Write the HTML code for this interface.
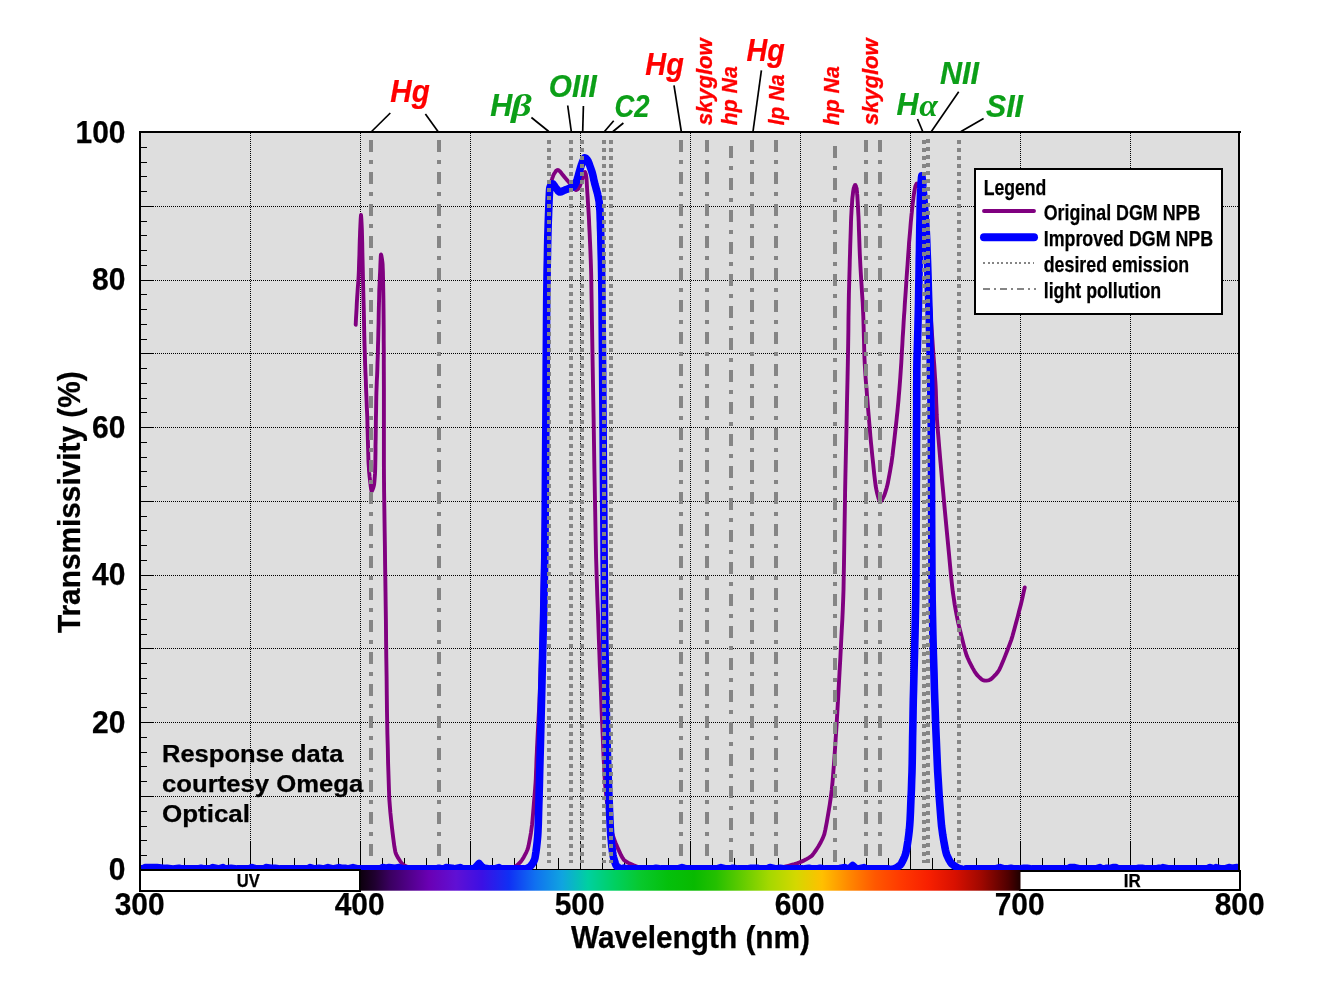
<!DOCTYPE html>
<html><head><meta charset="utf-8"><title>DGM NPB filter transmissivity</title>
<style>
html,body{margin:0;padding:0;background:#fff;}
body{width:1322px;height:1003px;overflow:hidden;}
svg{display:block;}
text{font-family:"Liberation Sans",sans-serif;}
.b{font-weight:bold;}
.bi{font-weight:bold;font-style:italic;}
.sy{font-family:"Liberation Serif","DejaVu Serif",serif;font-style:italic;font-weight:normal;}
</style></head><body>
<svg width="1322" height="1003" viewBox="0 0 1322 1003">
<defs>
<clipPath id="pc"><rect x="140" y="132" width="1099" height="738"/></clipPath>
<linearGradient id="sp" gradientUnits="userSpaceOnUse" x1="360" y1="0" x2="1020" y2="0">
<stop offset="0.0000" stop-color="#0c000c"/><stop offset="0.0227" stop-color="#200030"/><stop offset="0.0455" stop-color="#3a0060"/><stop offset="0.0758" stop-color="#52008c"/><stop offset="0.1045" stop-color="#6a00b4"/><stop offset="0.1455" stop-color="#6010d4"/><stop offset="0.1848" stop-color="#3c10e4"/><stop offset="0.2258" stop-color="#1030f4"/><stop offset="0.2652" stop-color="#1070f0"/><stop offset="0.3061" stop-color="#10a4e0"/><stop offset="0.3455" stop-color="#00d0a0"/><stop offset="0.3864" stop-color="#00d060"/><stop offset="0.4258" stop-color="#08c82c"/><stop offset="0.4667" stop-color="#04c00c"/><stop offset="0.5061" stop-color="#08ba00"/><stop offset="0.5394" stop-color="#24c000"/><stop offset="0.5803" stop-color="#64cc00"/><stop offset="0.6197" stop-color="#a4d800"/><stop offset="0.6606" stop-color="#d4d800"/><stop offset="0.7000" stop-color="#ffc000"/><stop offset="0.7409" stop-color="#ff8800"/><stop offset="0.7803" stop-color="#ff5800"/><stop offset="0.8212" stop-color="#ff3800"/><stop offset="0.8606" stop-color="#f82000"/><stop offset="0.9015" stop-color="#d81000"/><stop offset="0.9409" stop-color="#a00800"/><stop offset="0.9818" stop-color="#500000"/><stop offset="1.0000" stop-color="#200000"/>
</linearGradient>
</defs>
<rect x="0" y="0" width="1322" height="1003" fill="#ffffff"/>
<rect x="140" y="132" width="1100" height="739" fill="#dedede"/>
<g stroke="#000" stroke-width="1" stroke-dasharray="1,1" shape-rendering="crispEdges" fill="none">
<line x1="250.5" y1="133" x2="250.5" y2="842"/><line x1="360.5" y1="133" x2="360.5" y2="842"/><line x1="470.5" y1="133" x2="470.5" y2="842"/><line x1="580.5" y1="133" x2="580.5" y2="842"/><line x1="690.5" y1="133" x2="690.5" y2="842"/><line x1="800.5" y1="133" x2="800.5" y2="842"/><line x1="910.5000000000001" y1="133" x2="910.5000000000001" y2="842"/><line x1="1020.5000000000001" y1="133" x2="1020.5000000000001" y2="842"/><line x1="1130.5" y1="133" x2="1130.5" y2="842"/><line x1="153" y1="796.5" x2="1238" y2="796.5"/><line x1="153" y1="722.5" x2="1238" y2="722.5"/><line x1="153" y1="648.5" x2="1238" y2="648.5"/><line x1="153" y1="575.5" x2="1238" y2="575.5"/><line x1="153" y1="501.5" x2="1238" y2="501.5"/><line x1="153" y1="427.5" x2="1238" y2="427.5"/><line x1="153" y1="353.5" x2="1238" y2="353.5"/><line x1="153" y1="280.5" x2="1238" y2="280.5"/><line x1="153" y1="206.5" x2="1238" y2="206.5"/>
</g>
<g stroke="#000" stroke-width="1" shape-rendering="crispEdges" fill="none">
<line x1="162.5" y1="858" x2="162.5" y2="870"/><line x1="184.5" y1="858" x2="184.5" y2="870"/><line x1="206.5" y1="858" x2="206.5" y2="870"/><line x1="228.5" y1="858" x2="228.5" y2="870"/><line x1="250.5" y1="842" x2="250.5" y2="870"/><line x1="272.5" y1="858" x2="272.5" y2="870"/><line x1="294.5" y1="858" x2="294.5" y2="870"/><line x1="316.5" y1="858" x2="316.5" y2="870"/><line x1="338.5" y1="858" x2="338.5" y2="870"/><line x1="360.5" y1="842" x2="360.5" y2="870"/><line x1="382.5" y1="858" x2="382.5" y2="870"/><line x1="404.5" y1="858" x2="404.5" y2="870"/><line x1="426.5" y1="858" x2="426.5" y2="870"/><line x1="448.5" y1="858" x2="448.5" y2="870"/><line x1="470.5" y1="842" x2="470.5" y2="870"/><line x1="492.5" y1="858" x2="492.5" y2="870"/><line x1="514.5" y1="858" x2="514.5" y2="870"/><line x1="536.5" y1="858" x2="536.5" y2="870"/><line x1="558.5" y1="858" x2="558.5" y2="870"/><line x1="580.5" y1="842" x2="580.5" y2="870"/><line x1="602.5" y1="858" x2="602.5" y2="870"/><line x1="624.5" y1="858" x2="624.5" y2="870"/><line x1="646.5" y1="858" x2="646.5" y2="870"/><line x1="668.5" y1="858" x2="668.5" y2="870"/><line x1="690.5" y1="842" x2="690.5" y2="870"/><line x1="712.5" y1="858" x2="712.5" y2="870"/><line x1="734.5" y1="858" x2="734.5" y2="870"/><line x1="756.5" y1="858" x2="756.5" y2="870"/><line x1="778.5" y1="858" x2="778.5" y2="870"/><line x1="800.5" y1="842" x2="800.5" y2="870"/><line x1="822.5" y1="858" x2="822.5" y2="870"/><line x1="844.5" y1="858" x2="844.5" y2="870"/><line x1="866.5" y1="858" x2="866.5" y2="870"/><line x1="888.5" y1="858" x2="888.5" y2="870"/><line x1="910.5" y1="842" x2="910.5" y2="870"/><line x1="932.5" y1="858" x2="932.5" y2="870"/><line x1="954.5" y1="858" x2="954.5" y2="870"/><line x1="976.5" y1="858" x2="976.5" y2="870"/><line x1="998.5" y1="858" x2="998.5" y2="870"/><line x1="1020.5" y1="842" x2="1020.5" y2="870"/><line x1="1042.5" y1="858" x2="1042.5" y2="870"/><line x1="1064.5" y1="858" x2="1064.5" y2="870"/><line x1="1086.5" y1="858" x2="1086.5" y2="870"/><line x1="1108.5" y1="858" x2="1108.5" y2="870"/><line x1="1130.5" y1="842" x2="1130.5" y2="870"/><line x1="1152.5" y1="858" x2="1152.5" y2="870"/><line x1="1174.5" y1="858" x2="1174.5" y2="870"/><line x1="1196.5" y1="858" x2="1196.5" y2="870"/><line x1="1218.5" y1="858" x2="1218.5" y2="870"/><line x1="140" y1="855.5" x2="147" y2="855.5"/><line x1="140" y1="840.5" x2="147" y2="840.5"/><line x1="140" y1="826.5" x2="147" y2="826.5"/><line x1="140" y1="811.5" x2="147" y2="811.5"/><line x1="140" y1="796.5" x2="153" y2="796.5"/><line x1="140" y1="781.5" x2="147" y2="781.5"/><line x1="140" y1="766.5" x2="147" y2="766.5"/><line x1="140" y1="752.5" x2="147" y2="752.5"/><line x1="140" y1="737.5" x2="147" y2="737.5"/><line x1="140" y1="722.5" x2="153" y2="722.5"/><line x1="140" y1="707.5" x2="147" y2="707.5"/><line x1="140" y1="693.5" x2="147" y2="693.5"/><line x1="140" y1="678.5" x2="147" y2="678.5"/><line x1="140" y1="663.5" x2="147" y2="663.5"/><line x1="140" y1="648.5" x2="153" y2="648.5"/><line x1="140" y1="634.5" x2="147" y2="634.5"/><line x1="140" y1="619.5" x2="147" y2="619.5"/><line x1="140" y1="604.5" x2="147" y2="604.5"/><line x1="140" y1="589.5" x2="147" y2="589.5"/><line x1="140" y1="575.5" x2="153" y2="575.5"/><line x1="140" y1="560.5" x2="147" y2="560.5"/><line x1="140" y1="545.5" x2="147" y2="545.5"/><line x1="140" y1="530.5" x2="147" y2="530.5"/><line x1="140" y1="516.5" x2="147" y2="516.5"/><line x1="140" y1="501.5" x2="153" y2="501.5"/><line x1="140" y1="486.5" x2="147" y2="486.5"/><line x1="140" y1="471.5" x2="147" y2="471.5"/><line x1="140" y1="457.5" x2="147" y2="457.5"/><line x1="140" y1="442.5" x2="147" y2="442.5"/><line x1="140" y1="427.5" x2="153" y2="427.5"/><line x1="140" y1="412.5" x2="147" y2="412.5"/><line x1="140" y1="398.5" x2="147" y2="398.5"/><line x1="140" y1="383.5" x2="147" y2="383.5"/><line x1="140" y1="368.5" x2="147" y2="368.5"/><line x1="140" y1="353.5" x2="153" y2="353.5"/><line x1="140" y1="339.5" x2="147" y2="339.5"/><line x1="140" y1="324.5" x2="147" y2="324.5"/><line x1="140" y1="309.5" x2="147" y2="309.5"/><line x1="140" y1="294.5" x2="147" y2="294.5"/><line x1="140" y1="280.5" x2="153" y2="280.5"/><line x1="140" y1="265.5" x2="147" y2="265.5"/><line x1="140" y1="250.5" x2="147" y2="250.5"/><line x1="140" y1="235.5" x2="147" y2="235.5"/><line x1="140" y1="221.5" x2="147" y2="221.5"/><line x1="140" y1="206.5" x2="153" y2="206.5"/><line x1="140" y1="191.5" x2="147" y2="191.5"/><line x1="140" y1="176.5" x2="147" y2="176.5"/><line x1="140" y1="162.5" x2="147" y2="162.5"/><line x1="140" y1="147.5" x2="147" y2="147.5"/>
</g>
<rect x="140" y="869" width="1100" height="1" fill="#000" shape-rendering="crispEdges"/>
<g clip-path="url(#pc)" fill="none" stroke-linejoin="round" stroke-linecap="round">
<path d="M355.7,324.8L355.8,322.4L356.0,318.4L356.3,313.3L356.6,308.1L356.8,303.4L357.0,300.0L357.2,296.8L357.5,292.7L357.8,287.9L358.2,283.0L358.5,278.5L358.7,274.7L358.9,269.9L359.1,262.8L359.4,254.7L359.6,246.5L359.8,239.6L360.0,235.0L360.1,231.4L360.3,227.2L360.5,222.8L360.7,218.9L360.9,216.1L361.0,215.0L361.1,215.9L361.3,218.3L361.5,221.8L361.7,226.0L361.9,230.6L362.0,235.0L362.2,242.0L362.4,253.1L362.7,266.4L363.0,279.9L363.3,291.8L363.5,300.0L363.7,307.1L363.9,316.0L364.1,325.9L364.3,335.5L364.5,343.9L364.7,350.0L364.9,355.8L365.1,363.4L365.4,371.8L365.8,380.0L366.0,387.0L366.2,392.0L366.4,396.3L366.6,401.5L366.8,407.2L367.1,412.8L367.3,417.9L367.4,422.0L367.5,426.8L367.7,433.6L367.9,441.4L368.1,449.0L368.3,455.5L368.4,459.6L368.5,462.3L368.7,465.1L368.9,467.8L369.0,470.4L369.2,472.7L369.4,474.5L369.6,476.7L370.0,479.9L370.4,483.5L370.8,487.0L371.2,489.6L371.5,491.0L371.8,491.1L372.3,490.3L372.8,489.1L373.3,487.7L373.7,486.2L374.0,485.0L374.2,483.6L374.4,481.6L374.6,479.1L374.8,476.5L375.0,473.9L375.1,471.5L375.2,468.3L375.3,463.5L375.4,457.7L375.5,451.7L375.5,446.1L375.6,441.6L375.7,436.2L375.8,428.3L375.9,419.2L376.1,410.1L376.2,402.2L376.3,396.8L376.4,392.4L376.6,387.1L376.8,381.4L377.1,375.7L377.3,370.7L377.4,366.9L377.5,362.9L377.7,357.5L377.9,351.4L378.0,345.1L378.2,339.5L378.3,335.0L378.4,329.9L378.6,322.7L378.7,314.4L378.9,306.2L379.1,299.0L379.2,294.0L379.3,289.6L379.6,284.0L379.8,278.0L380.1,272.2L380.3,267.4L380.4,264.3L380.5,262.2L380.6,260.0L380.7,257.9L380.8,256.2L380.9,255.0L381.0,254.5L381.2,255.0L381.5,256.2L381.8,258.0L382.1,260.1L382.4,262.2L382.6,264.3L382.7,267.1L382.9,271.5L383.0,276.7L383.1,282.4L383.2,287.9L383.3,292.7L383.4,298.6L383.5,307.2L383.6,317.5L383.7,328.7L383.7,339.8L383.8,350.0L383.8,364.7L383.9,387.5L383.9,414.3L383.9,441.3L383.9,464.6L384.0,480.0L384.1,491.6L384.3,505.2L384.5,519.6L384.7,533.4L384.9,545.7L385.0,555.0L385.1,564.6L385.3,577.4L385.5,591.8L385.7,606.4L385.9,619.6L386.0,630.0L386.1,641.6L386.3,658.0L386.6,676.8L386.8,695.6L387.0,712.1L387.2,723.7L387.4,734.4L387.8,748.2L388.1,763.4L388.6,778.2L389.0,790.6L389.3,799.0L389.8,805.5L390.4,812.9L391.2,820.6L392.0,827.9L392.7,833.8L393.2,837.8L393.6,840.7L394.0,843.7L394.4,846.7L394.9,849.4L395.3,851.7L395.8,853.4L396.5,855.0L397.5,856.9L398.8,859.0L400.1,861.0L401.3,862.7L402.2,863.8L403.1,864.6L404.5,865.4L406.0,866.2L407.5,867.0L408.9,867.6L410.0,868.0L411.3,868.3L413.2,868.7L415.3,869.2L417.4,869.5L419.0,869.8L420.0,870.0L505.0,870.0L506.1,869.6L508.0,869.0L510.3,868.2L512.6,867.4L514.7,866.6L516.0,866.0L517.0,865.3L518.0,864.4L519.2,863.3L520.3,862.1L521.3,861.0L522.0,860.0L522.8,858.7L523.9,856.9L525.1,854.6L526.3,852.3L527.3,850.0L528.0,848.0L528.6,845.5L529.3,841.9L530.1,837.6L530.9,833.1L531.5,828.7L532.0,825.0L532.5,820.2L533.1,813.1L533.8,804.7L534.5,796.2L535.1,788.8L535.5,783.5L535.8,778.8L536.0,772.7L536.3,766.0L536.5,759.2L536.8,753.0L537.0,748.0L537.3,742.3L537.7,734.2L538.2,724.9L538.7,715.4L539.2,706.7L539.5,700.0L539.8,692.9L540.1,683.2L540.5,672.0L540.9,660.3L541.2,649.2L541.5,640.0L541.8,628.5L542.1,611.6L542.5,591.9L542.9,571.7L543.2,553.6L543.5,540.0L543.8,526.2L544.1,507.5L544.5,486.1L544.9,464.5L545.2,445.0L545.5,430.0L545.8,413.4L546.3,390.1L546.8,363.5L547.3,337.3L547.7,314.9L548.0,300.0L548.2,288.6L548.4,275.3L548.6,261.4L548.7,248.4L548.9,237.4L549.0,230.0L549.1,224.1L549.3,217.3L549.5,210.4L549.7,203.9L549.9,198.6L550.0,195.0L550.2,192.4L550.4,189.6L550.7,186.9L551.0,184.4L551.3,182.4L551.5,181.0L551.7,179.9L552.1,178.8L552.5,177.6L552.9,176.6L553.2,175.7L553.5,175.0L553.8,174.4L554.2,173.6L554.8,172.8L555.3,172.0L555.7,171.4L556.0,171.0L556.3,170.7L556.6,170.5L557.0,170.3L557.4,170.1L557.7,170.0L558.0,170.0L558.3,170.1L558.7,170.4L559.2,170.8L559.7,171.2L560.1,171.6L560.5,172.0L560.9,172.5L561.5,173.3L562.2,174.2L562.9,175.1L563.6,175.9L564.0,176.5L564.4,177.0L564.9,177.6L565.5,178.3L566.1,179.0L566.6,179.6L567.0,180.0L567.4,180.5L567.9,181.1L568.5,181.7L569.1,182.4L569.6,183.0L570.0,183.5L570.4,184.0L570.9,184.7L571.5,185.5L572.1,186.3L572.6,187.0L573.0,187.5L573.4,187.9L573.9,188.4L574.5,189.0L575.1,189.5L575.6,189.8L576.0,190.0L576.4,189.9L576.9,189.7L577.5,189.3L578.1,188.9L578.6,188.4L579.0,188.0L579.3,187.3L579.8,186.2L580.3,184.9L580.8,183.6L581.2,182.4L581.5,181.5L581.8,180.6L582.1,179.4L582.5,178.1L582.9,176.8L583.3,175.7L583.5,175.0L583.7,174.4L584.0,173.8L584.3,173.1L584.6,172.5L584.8,172.1L585.0,172.0L585.2,172.3L585.4,172.9L585.7,173.7L585.9,174.7L586.1,175.8L586.3,177.0L586.5,178.8L586.7,181.7L586.9,185.3L587.1,188.9L587.3,192.3L587.5,195.0L587.7,197.8L587.9,201.8L588.2,206.3L588.5,211.2L588.8,215.8L589.0,219.7L589.2,224.9L589.6,232.6L590.0,241.7L590.4,250.9L590.7,258.9L590.9,264.5L591.0,268.0L591.1,271.2L591.2,274.9L591.3,280.3L591.4,288.4L591.6,300.0L592.0,325.0L592.7,366.9L593.6,417.6L594.4,468.8L595.2,512.3L595.7,540.0L596.1,558.0L596.7,577.0L597.3,596.0L598.0,613.6L598.5,628.7L598.9,640.0L599.3,651.2L599.8,665.6L600.5,681.4L601.1,696.9L601.6,710.4L602.0,720.0L602.4,728.9L602.9,740.4L603.4,752.9L604.0,765.2L604.5,775.7L605.0,783.0L605.6,789.3L606.4,797.2L607.4,805.7L608.4,813.8L609.3,820.5L610.0,825.0L610.7,828.2L611.6,831.6L612.7,834.9L613.8,838.1L614.8,840.9L615.6,843.0L616.6,845.3L617.9,848.4L619.5,851.9L621.1,855.3L622.7,858.2L624.0,860.0L625.6,861.3L628.0,862.7L630.9,864.0L633.7,865.3L636.2,866.3L638.0,867.0L639.7,867.5L642.0,868.2L644.5,868.8L646.9,869.3L648.9,869.7L650.0,870.0L770.0,870.0L771.3,869.7L773.6,869.3L776.4,868.7L779.4,868.0L782.1,867.5L784.0,867.0L785.9,866.5L788.5,865.8L791.5,865.0L794.4,864.2L797.0,863.4L798.9,862.7L800.7,861.9L803.1,860.9L805.7,859.6L808.3,858.1L810.6,856.7L812.3,855.2L813.9,853.1L816.1,850.0L818.5,846.2L820.9,842.0L822.9,837.9L824.3,834.3L825.4,829.4L826.8,822.1L828.3,813.3L829.8,804.2L831.0,795.9L831.8,789.4L832.5,782.3L833.3,772.4L834.2,760.8L835.0,749.0L835.7,738.2L836.3,729.6L836.9,719.7L837.7,705.5L838.6,689.2L839.5,672.8L840.3,658.7L840.8,648.8L841.2,640.7L841.7,630.8L842.3,620.1L842.8,609.1L843.2,598.8L843.5,590.0L843.7,578.8L844.0,562.5L844.3,543.3L844.6,523.6L844.9,505.6L845.1,491.6L845.4,475.7L845.9,453.0L846.5,427.0L847.0,401.3L847.5,379.5L847.8,365.0L848.0,354.3L848.2,342.0L848.4,329.3L848.5,317.3L848.7,307.1L848.8,300.0L848.9,294.0L849.1,286.8L849.3,279.2L849.5,271.7L849.7,265.1L849.8,260.0L850.0,254.3L850.2,246.5L850.5,237.6L850.8,228.9L851.0,221.5L851.2,216.7L851.4,213.3L851.6,209.4L851.9,205.6L852.1,202.0L852.3,199.0L852.5,197.0L852.7,195.4L852.9,193.7L853.1,191.9L853.4,190.2L853.6,188.9L853.8,188.0L854.0,187.4L854.2,186.7L854.5,186.1L854.8,185.5L855.0,185.1L855.2,185.0L855.4,185.1L855.6,185.5L855.9,186.1L856.1,186.7L856.3,187.4L856.5,188.0L856.6,188.9L856.8,190.2L857.0,191.9L857.1,193.7L857.3,195.4L857.4,197.0L857.5,199.0L857.7,202.0L857.9,205.6L858.1,209.4L858.3,213.3L858.5,216.7L858.7,221.5L858.9,228.7L859.2,237.2L859.5,246.1L859.8,254.0L860.1,260.0L860.4,266.1L860.9,274.6L861.5,284.2L862.1,294.0L862.7,302.7L863.0,309.4L863.3,316.5L863.6,326.5L863.9,337.7L864.2,348.9L864.5,358.5L864.8,365.0L865.1,370.2L865.5,376.4L866.0,383.0L866.6,389.5L867.0,395.4L867.4,400.0L867.8,405.2L868.4,412.4L869.1,420.6L869.8,428.9L870.4,436.3L870.9,441.9L871.5,447.8L872.3,455.9L873.3,465.0L874.2,474.0L875.1,481.4L875.7,486.2L876.3,489.4L877.0,492.7L877.8,495.8L878.6,498.6L879.4,500.6L879.9,501.7L880.4,501.7L881.2,501.0L882.0,499.7L882.9,498.3L883.6,496.8L884.1,495.7L884.6,494.4L885.2,492.6L885.9,490.4L886.6,488.1L887.2,485.8L887.7,483.8L888.2,481.2L888.9,477.3L889.8,472.7L890.6,467.9L891.4,463.4L891.9,459.8L892.5,455.5L893.2,449.2L894.1,441.8L894.9,434.5L895.6,428.2L896.1,423.9L896.5,420.4L896.9,416.3L897.4,411.8L897.8,407.4L898.2,403.3L898.5,400.0L898.8,396.0L899.3,390.4L899.8,383.9L900.3,377.3L900.7,371.4L901.0,367.0L901.3,362.6L901.6,356.7L902.0,350.0L902.4,343.3L902.7,337.4L903.0,333.0L903.3,328.7L903.6,322.9L904.0,316.4L904.5,310.0L904.8,304.2L905.1,300.0L905.4,295.8L905.8,290.1L906.2,283.8L906.6,277.5L907.0,272.0L907.3,268.0L907.6,264.2L907.9,259.3L908.3,253.7L908.7,248.3L909.0,243.5L909.3,240.0L909.6,236.6L910.0,232.1L910.4,227.1L910.8,222.2L911.2,218.0L911.5,215.0L911.8,212.4L912.1,209.0L912.5,205.4L912.9,202.0L913.3,199.0L913.5,197.0L913.7,195.4L914.0,193.5L914.4,191.5L914.7,189.6L915.0,188.0L915.2,187.0L915.4,186.3L915.7,185.5L916.1,184.7L916.4,184.1L916.7,183.6L917.0,183.5L917.3,183.7L917.7,184.1L918.2,184.8L918.7,185.7L919.1,186.8L919.5,188.0L919.9,190.0L920.5,193.3L921.2,197.3L921.9,201.7L922.5,206.1L923.0,210.0L923.5,215.4L924.2,223.7L925.0,233.6L925.8,243.7L926.5,253.0L927.0,260.0L927.5,267.4L928.2,277.7L929.0,289.5L929.8,301.4L930.5,312.0L931.0,320.0L931.6,328.4L932.4,339.9L933.3,352.9L934.3,365.7L935.0,376.6L935.5,384.0L935.8,389.5L936.0,395.7L936.2,402.2L936.5,408.6L936.7,414.7L937.0,420.0L937.5,426.6L938.3,436.0L939.2,447.2L940.2,458.9L941.2,470.1L942.0,479.6L943.2,492.2L944.9,511.2L947.0,533.3L949.1,555.1L950.8,573.5L952.0,585.0L952.8,591.9L953.8,598.4L954.7,604.6L955.7,610.1L956.6,614.9L957.4,618.9L958.4,623.6L960.0,630.1L961.8,637.4L963.6,644.7L965.2,650.8L966.4,654.8L967.6,657.8L969.2,661.3L971.0,664.8L972.7,668.1L974.3,670.9L975.4,672.7L976.4,674.1L977.7,675.6L979.2,677.1L980.7,678.5L981.9,679.6L982.9,680.2L983.9,680.5L985.1,680.6L986.5,680.6L988.0,680.4L989.3,680.1L990.3,679.6L991.4,678.8L992.9,677.5L994.6,675.7L996.4,673.8L998.0,671.7L999.3,669.7L1000.8,666.5L1002.9,661.6L1005.3,655.6L1007.7,649.5L1009.8,643.9L1011.3,639.8L1012.6,635.6L1014.2,629.7L1016.0,623.0L1017.8,616.4L1019.2,610.8L1020.2,607.0L1021.0,603.9L1021.9,600.1L1022.8,596.0L1023.6,592.3L1024.3,589.3L1024.7,587.5" stroke="#800080" stroke-width="3.9"/>
<path d="M140.0,868.9L143.0,868.9L145.0,867.6L151.0,867.6L157.0,867.6L163.0,868.2L165.0,868.9L167.0,868.2L173.0,868.9L179.0,868.2L182.0,868.9L188.0,868.9L194.0,868.9L196.0,868.9L198.0,868.9L201.0,868.2L204.0,868.9L210.0,868.9L213.0,867.6L219.0,868.9L223.0,867.6L225.0,868.9L231.0,868.2L237.0,868.9L241.0,868.9L246.0,868.9L249.0,868.9L252.0,867.6L256.0,868.9L260.0,868.9L264.0,868.9L266.0,867.6L271.0,868.2L275.0,868.2L280.0,868.9L282.0,868.9L288.0,868.9L292.0,868.9L296.0,868.9L302.0,868.9L304.0,868.9L308.0,868.9L310.0,867.6L314.0,868.9L319.0,868.2L324.0,868.9L328.0,867.6L333.0,868.9L339.0,867.6L341.0,868.2L345.0,868.2L348.0,868.9L353.0,867.6L358.0,868.9L362.0,868.9L367.0,868.9L371.0,868.9L375.0,868.9L380.0,868.9L383.0,867.6L386.0,868.2L389.0,867.6L395.0,868.2L399.0,867.6L404.0,868.9L410.0,868.9L413.0,868.9L419.0,868.9L421.0,868.9L427.0,868.9L432.0,868.9L437.0,868.9L439.0,868.2L442.0,868.9L444.0,868.9L446.0,867.6L452.0,868.2L454.0,868.9L460.0,867.6L463.0,868.9L466.0,868.9L470.0,868.9L473.0,868.9L473.0,870.0L476.0,867.0L479.0,863.5L482.0,867.0L485.0,870.0L485.0,868.2L490.0,868.9L495.0,868.9L499.0,867.6L501.0,868.9L505.0,868.9L508.0,868.9L511.0,868.9L517.0,868.9L523.0,868.9L524.0,868.9L524.0,870.0L524.7,869.6L525.8,869.1L527.2,868.3L528.6,867.5L529.9,866.7L530.7,866.0L531.3,865.2L532.1,864.2L533.0,862.9L533.8,861.4L534.5,859.7L535.0,858.0L535.4,855.5L536.0,851.6L536.6,846.9L537.2,841.6L537.7,836.2L538.0,831.0L538.3,823.7L538.6,812.5L539.0,799.0L539.4,784.7L539.7,771.2L540.0,760.0L540.4,746.0L540.9,725.3L541.5,701.1L542.1,676.6L542.6,655.2L543.0,640.0L543.3,627.3L543.7,611.9L544.0,594.5L544.4,576.1L544.8,557.7L545.0,540.0L545.2,512.6L545.5,469.6L545.9,418.9L546.2,368.4L546.5,326.2L546.7,300.0L546.9,284.8L547.1,270.5L547.4,257.5L547.6,246.1L547.8,236.9L548.0,230.0L548.2,223.5L548.5,215.8L548.8,207.6L549.1,199.9L549.4,193.8L549.6,190.0L549.8,188.1L550.2,186.7L550.6,185.8L550.9,185.2L551.3,184.8L551.5,184.5L551.7,184.2L551.9,184.0L552.2,183.9L552.5,183.8L552.8,183.9L553.0,184.0L553.3,184.4L553.8,185.0L554.4,185.8L555.0,186.7L555.6,187.5L556.0,188.0L556.4,188.6L557.0,189.3L557.7,190.2L558.3,191.1L559.0,191.7L559.5,192.0L560.1,191.9L561.1,191.7L562.2,191.2L563.3,190.7L564.3,190.3L565.0,190.0L565.7,189.7L566.6,189.4L567.6,189.0L568.5,188.6L569.4,188.2L570.0,188.0L570.5,187.8L571.2,187.6L572.0,187.4L572.7,187.2L573.3,186.9L573.8,186.5L574.2,185.9L574.8,184.9L575.4,183.7L576.0,182.4L576.6,181.1L577.0,180.0L577.5,178.4L578.2,176.0L579.0,173.1L579.8,170.2L580.5,167.7L581.0,166.0L581.5,164.7L582.1,163.0L582.8,161.3L583.5,159.7L584.1,158.4L584.6,157.8L585.0,157.8L585.6,158.1L586.3,158.7L586.9,159.4L587.5,160.2L588.0,161.0L588.5,162.2L589.2,164.0L590.0,166.2L590.8,168.5L591.5,170.5L592.0,172.0L592.4,173.4L592.9,175.4L593.4,177.6L593.8,179.7L594.3,181.6L594.6,183.0L594.9,184.3L595.4,186.0L595.9,187.8L596.4,189.7L596.9,191.3L597.2,192.5L597.5,193.6L597.8,195.1L598.2,196.7L598.5,198.3L598.8,199.8L599.0,201.0L599.2,202.2L599.3,203.9L599.5,205.9L599.7,208.0L599.9,210.0L600.0,212.0L600.1,214.6L600.2,218.3L600.4,222.9L600.5,227.9L600.7,232.9L600.8,237.6L600.9,243.2L601.1,251.0L601.4,260.8L601.6,272.3L601.8,285.5L602.0,300.0L602.2,325.9L602.6,368.1L603.0,418.6L603.4,469.4L603.8,512.5L604.0,540.0L604.1,557.7L604.3,576.1L604.4,594.5L604.5,611.9L604.6,627.3L604.8,640.0L605.1,655.2L605.6,676.6L606.1,701.1L606.7,725.3L607.2,746.0L607.6,760.0L608.0,771.2L608.5,784.8L609.1,799.1L609.6,812.6L610.1,823.8L610.5,831.0L610.8,835.8L611.3,840.7L611.7,845.2L612.2,849.3L612.6,852.7L613.0,855.0L613.4,856.9L614.0,859.1L614.6,861.2L615.3,863.3L615.9,864.9L616.5,866.0L617.3,866.8L618.5,867.6L619.9,868.4L621.2,869.1L622.4,869.7L623.0,870.0L624.0,868.2L626.0,868.9L630.0,868.9L633.0,868.9L636.0,868.9L642.0,868.9L645.0,868.9L648.0,868.9L653.0,868.9L656.0,868.2L661.0,868.9L663.0,868.9L667.0,868.9L670.0,868.9L674.0,868.9L678.0,868.9L682.0,867.6L684.0,868.2L687.0,868.9L692.0,868.9L698.0,868.9L703.0,868.9L707.0,868.9L709.0,868.9L711.0,868.9L714.0,868.9L717.0,868.9L721.0,867.6L726.0,868.9L728.0,868.9L731.0,868.9L733.0,868.2L738.0,868.9L741.0,868.9L747.0,868.9L751.0,868.2L757.0,868.2L759.0,868.9L761.0,868.9L764.0,868.9L767.0,868.9L770.0,867.6L773.0,868.2L776.0,868.9L780.0,868.2L785.0,868.9L787.0,868.9L791.0,868.9L797.0,868.9L803.0,868.9L809.0,868.2L812.0,868.9L814.0,868.9L817.0,868.9L820.0,868.2L825.0,868.9L827.0,868.9L831.0,868.9L837.0,868.9L839.0,868.9L841.0,868.2L845.0,867.6L847.0,868.9L847.0,870.0L850.0,868.0L852.7,865.5L855.5,868.0L858.0,870.0L858.0,868.9L864.0,867.6L866.0,868.9L872.0,868.9L878.0,868.9L882.0,868.9L888.0,868.9L888.0,870.0L888.7,869.9L889.8,869.7L891.3,869.4L892.8,869.1L894.1,868.8L895.0,868.5L895.8,868.1L896.9,867.4L898.1,866.6L899.2,865.7L900.3,864.9L901.0,864.0L901.7,862.8L902.6,861.1L903.6,859.0L904.6,856.8L905.4,854.5L906.0,852.4L906.5,849.6L907.2,845.5L908.0,840.5L908.7,835.2L909.3,830.0L909.7,825.5L910.1,819.6L910.5,810.8L910.9,800.4L911.4,789.7L911.7,779.8L912.0,772.0L912.2,763.5L912.4,751.6L912.6,737.7L912.9,723.5L913.1,710.4L913.3,700.0L913.6,688.6L914.0,672.7L914.5,654.0L915.0,634.5L915.4,615.9L915.7,600.0L915.9,578.6L916.1,546.1L916.2,508.3L916.4,470.9L916.5,439.5L916.6,420.0L916.7,408.5L916.7,397.7L916.7,387.7L916.8,378.8L916.8,371.2L916.9,365.0L917.0,358.2L917.3,349.2L917.6,339.1L917.9,328.9L918.1,319.5L918.3,312.0L918.5,303.1L918.7,290.3L919.0,275.5L919.2,260.9L919.5,248.4L919.6,240.0L919.7,233.5L919.8,225.9L920.0,217.9L920.1,210.3L920.2,204.1L920.3,200.0L920.4,197.1L920.5,194.2L920.6,191.3L920.8,188.7L920.9,186.6L921.0,185.0L921.1,183.5L921.2,181.5L921.4,179.5L921.5,177.6L921.7,176.3L921.8,175.8L921.9,176.3L922.1,177.6L922.3,179.5L922.5,181.5L922.7,183.5L922.8,185.0L922.9,186.6L923.1,188.7L923.3,191.3L923.6,194.2L923.8,197.1L924.0,200.0L924.3,204.1L924.8,210.3L925.3,217.9L925.9,225.9L926.4,233.5L926.7,240.0L927.0,248.4L927.5,260.9L928.0,275.5L928.4,290.3L928.8,303.1L929.1,312.0L929.3,319.5L929.5,328.9L929.8,339.1L930.0,349.2L930.2,358.2L930.3,365.0L930.4,371.2L930.6,378.8L930.8,387.7L930.9,397.7L931.1,408.5L931.2,420.0L931.3,439.5L931.5,470.9L931.6,508.3L931.8,546.1L932.0,578.6L932.2,600.0L932.5,615.9L932.9,634.5L933.4,654.0L934.0,672.7L934.4,688.6L934.8,700.0L935.2,710.4L935.6,723.5L936.2,737.7L936.8,751.6L937.3,763.5L937.7,772.0L938.2,779.8L938.8,789.7L939.5,800.4L940.3,810.8L941.0,819.6L941.5,825.5L942.1,830.0L942.8,835.2L943.7,840.6L944.6,845.5L945.4,849.7L946.0,852.4L946.6,854.4L947.5,856.5L948.4,858.5L949.4,860.4L950.3,861.9L951.0,863.0L951.8,863.9L953.0,864.8L954.4,865.8L955.8,866.7L957.0,867.5L958.0,868.0L959.1,868.4L960.6,868.8L962.3,869.2L963.9,869.5L965.2,869.8L966.0,870.0L966.0,868.9L972.0,868.9L978.0,868.9L982.0,868.9L985.0,868.9L988.0,868.9L993.0,868.9L995.0,868.9L1000.0,867.6L1004.0,868.9L1007.0,868.9L1011.0,868.2L1014.0,868.9L1017.0,868.9L1019.0,868.9L1024.0,868.2L1027.0,868.2L1032.0,868.9L1037.0,868.9L1040.0,868.9L1042.0,868.9L1044.0,868.9L1049.0,868.9L1051.0,868.9L1057.0,868.9L1063.0,868.9L1065.0,868.9L1068.0,868.9L1070.0,867.6L1074.0,867.6L1077.0,868.2L1080.0,868.9L1084.0,868.9L1090.0,868.9L1096.0,868.9L1100.0,867.6L1102.0,868.9L1105.0,868.9L1107.0,868.2L1109.0,868.9L1113.0,867.6L1116.0,867.6L1118.0,868.9L1122.0,868.9L1127.0,868.9L1131.0,868.9L1133.0,868.9L1136.0,868.9L1139.0,868.2L1142.0,868.2L1146.0,868.9L1152.0,868.9L1156.0,868.9L1159.0,868.2L1161.0,868.9L1163.0,867.6L1169.0,868.9L1172.0,868.9L1175.0,868.9L1177.0,868.9L1182.0,868.9L1188.0,868.9L1193.0,868.9L1197.0,868.9L1200.0,868.9L1203.0,868.9L1207.0,868.9L1210.0,867.6L1214.0,868.9L1216.0,867.6L1221.0,868.9L1225.0,868.9L1229.0,867.6L1232.0,868.2L1237.0,867.6L1240.0,868.9" stroke="#0000ff" stroke-width="7.6"/>
</g>
<g stroke="#858585" stroke-width="4" shape-rendering="crispEdges" fill="none">
<line x1="549" y1="140" x2="549" y2="863" stroke-dasharray="4,4"/><line x1="571" y1="140" x2="571" y2="863" stroke-dasharray="4,4"/><line x1="582" y1="140" x2="582" y2="863" stroke-dasharray="4,4"/><line x1="604" y1="140" x2="604" y2="863" stroke-dasharray="4,4"/><line x1="611" y1="140" x2="611" y2="863" stroke-dasharray="4,4"/><line x1="924" y1="140" x2="924" y2="863" stroke-dasharray="4,4"/><line x1="928" y1="139" x2="928" y2="863" stroke-dasharray="4,4"/><line x1="959" y1="140" x2="959" y2="863" stroke-dasharray="4,4"/><line x1="371" y1="140" x2="371" y2="862" stroke-dasharray="12,8,4,8"/><line x1="439" y1="140" x2="439" y2="862" stroke-dasharray="12,8,4,8"/><line x1="681" y1="140" x2="681" y2="862" stroke-dasharray="12,8,4,8"/><line x1="707" y1="140" x2="707" y2="862" stroke-dasharray="12,8,4,8"/><line x1="731" y1="146" x2="731" y2="862" stroke-dasharray="12,8,4,8"/><line x1="752" y1="140" x2="752" y2="862" stroke-dasharray="12,8,4,8"/><line x1="776" y1="140" x2="776" y2="862" stroke-dasharray="12,8,4,8"/><line x1="835" y1="146" x2="835" y2="862" stroke-dasharray="12,8,4,8"/><line x1="866" y1="140" x2="866" y2="862" stroke-dasharray="12,8,4,8"/><line x1="880" y1="140" x2="880" y2="862" stroke-dasharray="12,8,4,8"/>
</g>
<rect x="140" y="870" width="1100" height="21" fill="#ffffff"/>
<g fill="#000" shape-rendering="crispEdges">
<rect x="139" y="869" width="222" height="2"/><rect x="139" y="890" width="222" height="2"/><rect x="359" y="869" width="2" height="23"/><rect x="1019" y="870" width="222" height="2"/><rect x="1019" y="889" width="222" height="2"/><rect x="1239" y="870" width="2" height="21"/><rect x="139" y="131" width="2" height="761"/><rect x="1238" y="131" width="2" height="740"/><rect x="139" y="131" width="1102" height="2"/>
</g>
<rect x="360.5" y="870" width="660" height="20.7" fill="url(#sp)"/>
<rect x="974" y="168" width="249" height="147" fill="#000" shape-rendering="crispEdges"/><rect x="976" y="170" width="245" height="143" fill="#fff" shape-rendering="crispEdges"/>
<line x1="984" y1="211" x2="1034" y2="211" stroke="#800080" stroke-width="3.9" stroke-linecap="round"/>
<line x1="984" y1="237.2" x2="1034" y2="237.2" stroke="#0000ff" stroke-width="8" stroke-linecap="round"/>
<line x1="983" y1="263" x2="1034" y2="263" stroke="#858585" stroke-width="2" stroke-dasharray="2,2.5" shape-rendering="crispEdges"/>
<line x1="983" y1="289" x2="1036" y2="289" stroke="#858585" stroke-width="2" stroke-dasharray="7,4,2,4" shape-rendering="crispEdges"/>
<text x="983.7" y="195" class="b" font-size="22.2" fill="#000" stroke="#000" stroke-width="0.25" text-anchor="start" textLength="62.7" lengthAdjust="spacingAndGlyphs">Legend</text>
<text x="1043.7" y="220.1" class="b" font-size="22.2" fill="#000" stroke="#000" stroke-width="0.25" text-anchor="start" textLength="156.7" lengthAdjust="spacingAndGlyphs">Original DGM NPB</text>
<text x="1043.7" y="246" class="b" font-size="22.2" fill="#000" stroke="#000" stroke-width="0.25" text-anchor="start" textLength="169.4" lengthAdjust="spacingAndGlyphs">Improved DGM NPB</text>
<text x="1043.7" y="272" class="b" font-size="22.2" fill="#000" stroke="#000" stroke-width="0.25" text-anchor="start" textLength="145.5" lengthAdjust="spacingAndGlyphs">desired emission</text>
<text x="1043.7" y="298.2" class="b" font-size="22.2" fill="#000" stroke="#000" stroke-width="0.25" text-anchor="start" textLength="117.5" lengthAdjust="spacingAndGlyphs">light pollution</text>
<text x="125.5" y="880.46" class="b" font-size="31.3" fill="#000" stroke="#000" stroke-width="0.25" text-anchor="end" textLength="16.7" lengthAdjust="spacingAndGlyphs">0</text>
<text x="125.5" y="732.94" class="b" font-size="31.3" fill="#000" stroke="#000" stroke-width="0.25" text-anchor="end" textLength="33.4" lengthAdjust="spacingAndGlyphs">20</text>
<text x="125.5" y="585.4200000000001" class="b" font-size="31.3" fill="#000" stroke="#000" stroke-width="0.25" text-anchor="end" textLength="33.4" lengthAdjust="spacingAndGlyphs">40</text>
<text x="125.5" y="437.9" class="b" font-size="31.3" fill="#000" stroke="#000" stroke-width="0.25" text-anchor="end" textLength="33.4" lengthAdjust="spacingAndGlyphs">60</text>
<text x="125.5" y="290.37999999999994" class="b" font-size="31.3" fill="#000" stroke="#000" stroke-width="0.25" text-anchor="end" textLength="33.4" lengthAdjust="spacingAndGlyphs">80</text>
<text x="125.5" y="142.85999999999996" class="b" font-size="31.3" fill="#000" stroke="#000" stroke-width="0.25" text-anchor="end" textLength="50.0" lengthAdjust="spacingAndGlyphs">100</text>
<text x="139.7" y="914.9" class="b" font-size="31.3" fill="#000" stroke="#000" stroke-width="0.25" text-anchor="middle" textLength="50" lengthAdjust="spacingAndGlyphs">300</text>
<text x="359.7" y="914.9" class="b" font-size="31.3" fill="#000" stroke="#000" stroke-width="0.25" text-anchor="middle" textLength="50" lengthAdjust="spacingAndGlyphs">400</text>
<text x="579.7" y="914.9" class="b" font-size="31.3" fill="#000" stroke="#000" stroke-width="0.25" text-anchor="middle" textLength="50" lengthAdjust="spacingAndGlyphs">500</text>
<text x="799.7" y="914.9" class="b" font-size="31.3" fill="#000" stroke="#000" stroke-width="0.25" text-anchor="middle" textLength="50" lengthAdjust="spacingAndGlyphs">600</text>
<text x="1019.7000000000002" y="914.9" class="b" font-size="31.3" fill="#000" stroke="#000" stroke-width="0.25" text-anchor="middle" textLength="50" lengthAdjust="spacingAndGlyphs">700</text>
<text x="1239.7" y="914.9" class="b" font-size="31.3" fill="#000" stroke="#000" stroke-width="0.25" text-anchor="middle" textLength="50" lengthAdjust="spacingAndGlyphs">800</text>
<text x="690.5" y="947.6" class="b" font-size="31" fill="#000" stroke="#000" stroke-width="0.25" text-anchor="middle" textLength="239" lengthAdjust="spacingAndGlyphs">Wavelength (nm)</text>
<text transform="translate(80,502.2) rotate(-90)" class="b" font-size="31" stroke="#000" stroke-width="0.25" text-anchor="middle" textLength="261.7" lengthAdjust="spacingAndGlyphs">Transmissivity (%)</text>
<text x="236.7" y="886.8" class="b" font-size="18" fill="#000" stroke="#000" stroke-width="0.25" text-anchor="start" textLength="23" lengthAdjust="spacingAndGlyphs">UV</text>
<text x="1123.7" y="886.6" class="b" font-size="18" fill="#000" stroke="#000" stroke-width="0.25" text-anchor="start" textLength="17" lengthAdjust="spacingAndGlyphs">IR</text>
<text x="162" y="762.3" class="b" font-size="24.4" fill="#000" stroke="#000" stroke-width="0.25" text-anchor="start" textLength="181.5" lengthAdjust="spacingAndGlyphs">Response data</text>
<text x="162" y="791.8" class="b" font-size="24.4" fill="#000" stroke="#000" stroke-width="0.25" text-anchor="start" textLength="201.2" lengthAdjust="spacingAndGlyphs">courtesy Omega</text>
<text x="162" y="821.9" class="b" font-size="24.4" fill="#000" stroke="#000" stroke-width="0.25" text-anchor="start" textLength="88" lengthAdjust="spacingAndGlyphs">Optical</text>
<text x="390.3" y="102.4" class="bi" font-size="31.8" fill="#ff0000" stroke="#ff0000" stroke-width="0.2" text-anchor="start" textLength="39.5" lengthAdjust="spacingAndGlyphs">Hg</text>
<text x="645.3" y="74.8" class="bi" font-size="31.8" fill="#ff0000" stroke="#ff0000" stroke-width="0.2" text-anchor="start" textLength="38.5" lengthAdjust="spacingAndGlyphs">Hg</text>
<text x="746.4" y="61.2" class="bi" font-size="31.8" fill="#ff0000" stroke="#ff0000" stroke-width="0.2" text-anchor="start" textLength="38.3" lengthAdjust="spacingAndGlyphs">Hg</text>
<text x="490.3" y="115.6" class="bi" font-size="31.8" fill="#0c9f18" stroke="#0c9f18" stroke-width="0.2" text-anchor="start" textLength="22" lengthAdjust="spacingAndGlyphs">H</text>
<text x="511.3" y="115.8" class="sy" style="font-weight:bold" font-size="31" fill="#0c9f18" textLength="20.5" lengthAdjust="spacingAndGlyphs">β</text>
<text x="548.8" y="96.8" class="bi" font-size="31.8" fill="#0c9f18" stroke="#0c9f18" stroke-width="0.2" text-anchor="start" textLength="48" lengthAdjust="spacingAndGlyphs">OIII</text>
<text x="614.4" y="116.9" class="bi" font-size="31.8" fill="#0c9f18" stroke="#0c9f18" stroke-width="0.2" text-anchor="start" textLength="35" lengthAdjust="spacingAndGlyphs">C2</text>
<text x="896.4" y="115.4" class="bi" font-size="31.8" fill="#0c9f18" stroke="#0c9f18" stroke-width="0.2" text-anchor="start" textLength="22" lengthAdjust="spacingAndGlyphs">H</text>
<text x="919.2" y="115.8" class="sy" style="font-weight:bold" font-size="31" fill="#0c9f18" textLength="18.6" lengthAdjust="spacingAndGlyphs">α</text>
<text x="940" y="83.5" class="bi" font-size="31.8" fill="#0c9f18" stroke="#0c9f18" stroke-width="0.2" text-anchor="start" textLength="39" lengthAdjust="spacingAndGlyphs">NII</text>
<text x="986" y="116.6" class="bi" font-size="31.8" fill="#0c9f18" stroke="#0c9f18" stroke-width="0.2" text-anchor="start" textLength="37" lengthAdjust="spacingAndGlyphs">SII</text>
<text transform="translate(712.3,125.3) rotate(-90)" class="bi" font-size="22" fill="#ff0000" stroke="#ff0000" stroke-width="0.3" textLength="87" lengthAdjust="spacingAndGlyphs">skyglow</text>
<text transform="translate(737.2,125.3) rotate(-90)" class="bi" font-size="22" fill="#ff0000" stroke="#ff0000" stroke-width="0.3" textLength="59" lengthAdjust="spacingAndGlyphs">hp Na</text>
<text transform="translate(784.4,125.3) rotate(-90)" class="bi" font-size="22" fill="#ff0000" stroke="#ff0000" stroke-width="0.3" textLength="51" lengthAdjust="spacingAndGlyphs">lp Na</text>
<text transform="translate(838.7,125.3) rotate(-90)" class="bi" font-size="22" fill="#ff0000" stroke="#ff0000" stroke-width="0.3" textLength="59" lengthAdjust="spacingAndGlyphs">hp Na</text>
<text transform="translate(878.1,125.3) rotate(-90)" class="bi" font-size="22" fill="#ff0000" stroke="#ff0000" stroke-width="0.3" textLength="87" lengthAdjust="spacingAndGlyphs">skyglow</text>
<g stroke="#000" stroke-width="1.7" fill="none" stroke-linecap="butt">
<line x1="390.3" y1="113" x2="371.6" y2="131.5"/><line x1="425.4" y1="114" x2="438" y2="131.5"/><line x1="531.4" y1="117.5" x2="548.8" y2="131.5"/><line x1="567.7" y1="105.5" x2="571.3" y2="131.5"/><line x1="583.4" y1="106" x2="582.7" y2="131.5"/><line x1="613.7" y1="120.7" x2="604.5" y2="131.5"/><line x1="623.4" y1="123" x2="613" y2="131.5"/><line x1="674" y1="85.4" x2="681.3" y2="131.5"/><line x1="761.4" y1="70.4" x2="753" y2="131.5"/><line x1="917.5" y1="119" x2="922.7" y2="131.5"/><line x1="958.7" y1="91.7" x2="931.4" y2="131.5"/><line x1="983.6" y1="118.4" x2="961" y2="131.5"/>
</g>
</svg>
</body></html>
